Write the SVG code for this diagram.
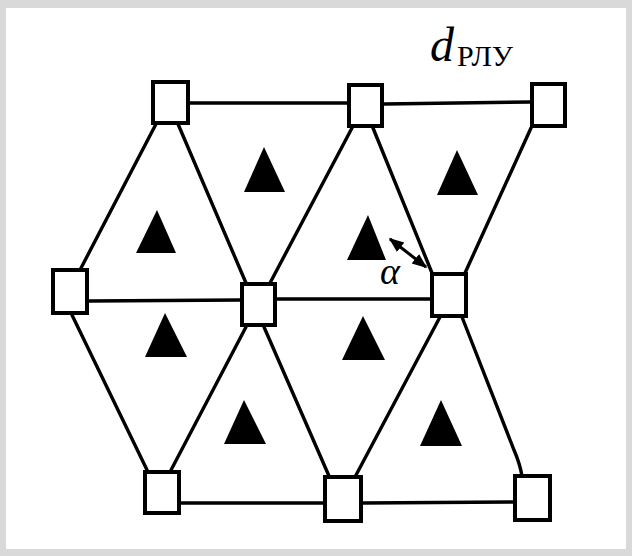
<svg xmlns="http://www.w3.org/2000/svg" width="632" height="556" viewBox="0 0 632 556">
<style>
.sq{fill:#fff;stroke:#000;stroke-width:4}
.ln{stroke:#000;stroke-width:3.4;fill:none;stroke-linecap:round}
.tri{fill:#000}
.t{font-family:"Liberation Serif","Times New Roman",serif;fill:#000}
</style>
<defs>
<marker id="ah" viewBox="0 0 10 10" refX="9" refY="5" markerWidth="5" markerHeight="5" orient="auto-start-reverse" markerUnits="strokeWidth">
<path d="M0,1 L10,5 L0,9 z" fill="#000"/>
</marker>
</defs>
<rect x="0" y="0" width="632" height="556" fill="#d9d9d9"/>
<rect x="6" y="8" width="620" height="541" fill="#fff"/>
<g id="connectors">
<line class="ln" x1="190" y1="103" x2="347" y2="103"/>
<line class="ln" x1="384" y1="104" x2="530" y2="102"/>
<line class="ln" x1="89" y1="301" x2="240" y2="300"/>
<line class="ln" x1="277" y1="299" x2="430" y2="299"/>
<line class="ln" x1="181" y1="503" x2="323" y2="503"/>
<line class="ln" x1="363" y1="503" x2="513" y2="502"/>
<line class="ln" x1="156" y1="124" x2="80" y2="270"/>
<line class="ln" x1="178" y1="124" x2="246" y2="283"/>
<line class="ln" x1="352" y1="128" x2="270" y2="283"/>
<line class="ln" x1="373" y1="128" x2="432" y2="273"/>
<line class="ln" x1="531" y1="128" x2="465" y2="273"/>
<line class="ln" x1="72" y1="315" x2="148" y2="472"/>
<line class="ln" x1="246" y1="327" x2="170" y2="472"/>
<line class="ln" x1="264" y1="327" x2="329" y2="476"/>
<line class="ln" x1="440" y1="317" x2="355" y2="477"/>
<path class="ln" d="M462,317 L514,450 Q520,464 522,476"/>
<line x1="390" y1="239" x2="426" y2="267" stroke="#000" stroke-width="3" marker-start="url(#ah)" marker-end="url(#ah)"/>
</g>
<g id="triangles">
<polygon class="tri" points="264,147 244,192 285,192"/>
<polygon class="tri" points="157,210 136,253 176,253"/>
<polygon class="tri" points="368,215 347,260 386,260"/>
<polygon class="tri" points="457,150 437,195 478,195"/>
<polygon class="tri" points="165,313 145,357 187,357"/>
<polygon class="tri" points="363,316 342,360 385,360"/>
<polygon class="tri" points="244,400 224,444 266,444"/>
<polygon class="tri" points="441,400 420,446 462,446"/>
</g>
<g id="n-tl"><rect class="sq" x="153" y="82" width="35" height="41"/></g>
<g id="n-tm"><rect class="sq" x="349" y="85" width="33" height="41"/></g>
<g id="n-tr"><rect class="sq" x="532" y="84" width="33" height="42"/></g>
<g id="n-ml"><rect class="sq" x="53" y="270" width="34" height="43"/></g>
<g id="n-mm"><rect class="sq" x="242" y="284" width="33" height="41"/></g>
<g id="n-mr"><rect class="sq" x="432" y="274" width="34" height="42"/></g>
<g id="n-bl"><rect class="sq" x="145" y="472" width="34" height="41"/></g>
<g id="n-bm"><rect class="sq" x="325" y="477" width="36" height="44"/></g>
<g id="n-br"><rect class="sq" x="515" y="476" width="35" height="44"/></g>
<g id="labels">
<text class="t" x="430" y="61" font-size="48" font-style="italic">d</text>
<text class="t" x="457" y="66" font-size="30">РЛУ</text>
<text class="t" x="380" y="284" font-size="38" font-style="italic">α</text>
</g>
</svg>
